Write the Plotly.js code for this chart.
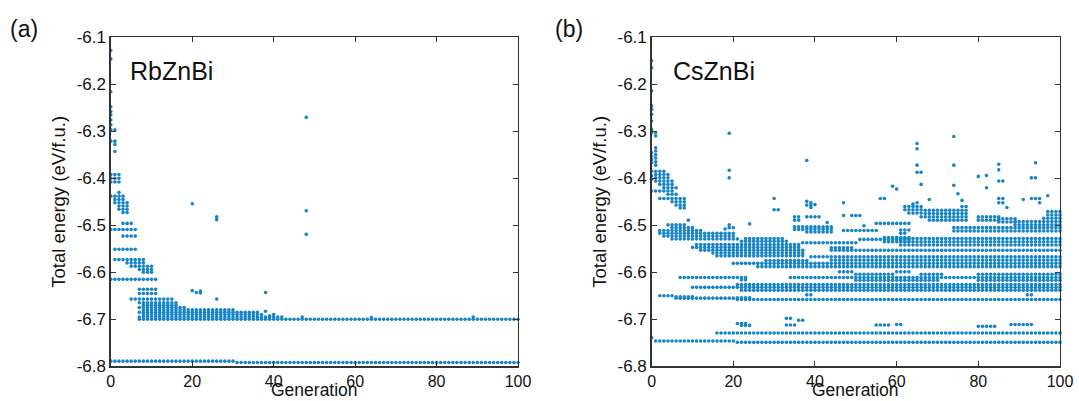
<!DOCTYPE html>
<html><head><meta charset="utf-8">
<script src="https://cdn.plot.ly/plotly-3.0.1.min.js"></script>
<style>html,body{margin:0;padding:0;background:#fff;}#chart{width:1079px;height:401px;}</style>
</head><body><div id="chart"></div>
<script>
// Axis ticks
const genTicks = [0, 20, 40, 60, 80, 100];
const energyTicks = [-6.8, -6.7, -6.6, -6.5, -6.4, -6.3, -6.2, -6.1];
const energyTickLabels = ['-6.8', '-6.7', '-6.6', '-6.5', '-6.4', '-6.3', '-6.2', '-6.1'];

// RbZnBi: horizontal runs [first generation, last generation, energy (eV/f.u.)]
const rbRuns = [
  [0, 30, -6.789], [31, 100, -6.792],
  [7, 100, -6.700], [7, 42, -6.695], [8, 37, -6.690], [7, 36, -6.685], [8, 30, -6.680],
  [7, 18, -6.675], [8, 16, -6.670], [7, 16, -6.665], [5, 15, -6.657],
  [7, 11, -6.645], [7, 11, -6.636], [0, 11, -6.615],
  [8, 10, -6.600], [7, 10, -6.594], [5, 10, -6.587], [4, 8, -6.580], [1, 8, -6.573],
  [1, 6, -6.551], [3, 6, -6.523], [0, 6, -6.509], [3, 5, -6.496],
  [3, 4, -6.473], [2, 4, -6.466], [2, 4, -6.459], [1, 4, -6.452], [1, 3, -6.445], [0, 3, -6.438],
  [0, 2, -6.408], [0, 2, -6.400], [0, 2, -6.392]
];
// RbZnBi: isolated structures [generation, energy]
const rbSingles = [
  [0, -6.128], [0, -6.146], [0, -6.216], [0, -6.248], [0, -6.258], [0, -6.265], [0, -6.276],
  [0, -6.286], [0, -6.297], [0, -6.321],
  [1, -6.297], [1, -6.321], [1, -6.328], [1, -6.343], [2, -6.430],
  [20, -6.454], [20, -6.639], [21, -6.643], [22, -6.640], [22, -6.644],
  [26, -6.482], [26, -6.488], [26, -6.657], [38, -6.643], [38, -6.683],
  [39, -6.693], [40, -6.690], [47, -6.695], [64, -6.696], [89, -6.695],
  [48, -6.270], [48, -6.469], [48, -6.519]
];

// CsZnBi: horizontal runs [first generation, last generation, energy (eV/f.u.)]
const csRuns = [
  [1, 20, -6.746], [21, 100, -6.749], [16, 100, -6.729],
  [21, 23, -6.709], [22, 24, -6.713], [33, 34, -6.698], [33, 35, -6.712], [36, 37, -6.702],
  [55, 58, -6.712], [60, 61, -6.711], [80, 84, -6.715], [88, 93, -6.711],
  [2, 5, -6.650], [6, 10, -6.652], [6, 20, -6.655], [21, 24, -6.654], [21, 100, -6.658],
  [38, 39, -6.648], [92, 93, -6.648],
  [10, 100, -6.632], [21, 100, -6.626], [22, 100, -6.638],
  [7, 23, -6.611], [22, 23, -6.616], [34, 100, -6.611],
  [50, 70, -6.617], [80, 100, -6.617], [50, 59, -6.604], [66, 71, -6.604], [80, 100, -6.604],
  [46, 49, -6.599], [60, 63, -6.599],
  [20, 100, -6.581], [26, 100, -6.588], [28, 38, -6.575], [39, 43, -6.567],
  [44, 100, -6.574], [44, 100, -6.567],
  [11, 36, -6.541], [10, 36, -6.547], [12, 37, -6.553], [15, 37, -6.559], [16, 37, -6.565],
  [22, 33, -6.534], [23, 32, -6.528],
  [37, 50, -6.537], [44, 100, -6.553], [44, 49, -6.548],
  [61, 100, -6.528], [61, 100, -6.535], [61, 100, -6.542],
  [51, 63, -6.530], [57, 63, -6.526], [57, 63, -6.535],
  [4, 8, -6.499], [5, 10, -6.505], [2, 12, -6.511], [2, 20, -6.517], [3, 20, -6.523], [5, 21, -6.529],
  [35, 37, -6.503], [35, 37, -6.509], [38, 44, -6.503], [38, 44, -6.508], [38, 44, -6.514],
  [47, 55, -6.511], [35, 36, -6.482], [35, 36, -6.489], [38, 41, -6.482], [55, 63, -6.496],
  [61, 63, -6.510], [61, 62, -6.517],
  [74, 100, -6.505], [74, 100, -6.512], [89, 100, -6.492], [89, 100, -6.499],
  [67, 77, -6.468], [67, 77, -6.475], [66, 77, -6.482], [68, 77, -6.489],
  [80, 85, -6.482], [80, 85, -6.489], [85, 89, -6.486], [85, 89, -6.493],
  [97, 100, -6.471], [97, 100, -6.478], [96, 100, -6.485],
  [62, 66, -6.460], [62, 66, -6.467], [63, 66, -6.474],
  [0, 3, -6.385], [1, 4, -6.392], [1, 4, -6.399], [1, 5, -6.406], [2, 5, -6.413], [3, 6, -6.420],
  [0, 5, -6.427], [4, 6, -6.434], [2, 8, -6.443], [5, 8, -6.450], [6, 8, -6.457], [7, 8, -6.463]
];
// CsZnBi: isolated structures [generation, energy]
const csSingles = [
  [0, -6.150], [0, -6.165], [0, -6.214], [0, -6.246], [0, -6.253], [0, -6.264], [0, -6.278],
  [0, -6.296], [0, -6.303], [0, -6.345], [0, -6.353], [0, -6.360], [0, -6.367], [0, -6.395],
  [0, -6.402], [0, -6.739],
  [1, -6.303], [1, -6.310], [1, -6.335], [1, -6.342], [1, -6.350], [1, -6.357], [1, -6.365], [1, -6.372],
  [9, -6.489], [18, -6.508], [19, -6.304], [19, -6.383], [19, -6.399], [19, -6.499], [19, -6.505],
  [20, -6.505], [24, -6.497],
  [30, -6.443], [30, -6.467], [31, -6.467],
  [38, -6.362], [38, -6.449], [38, -6.457], [39, -6.452], [39, -6.457], [39, -6.462], [40, -6.456],
  [43, -6.494], [47, -6.452], [47, -6.479], [49, -6.479], [50, -6.479], [51, -6.479], [52, -6.501],
  [56, -6.443], [57, -6.443], [59, -6.417], [60, -6.423],
  [64, -6.455], [65, -6.452], [65, -6.326], [65, -6.337], [65, -6.372], [65, -6.387],
  [66, -6.387], [66, -6.413], [68, -6.445],
  [74, -6.311], [74, -6.372], [74, -6.415], [75, -6.433], [76, -6.447], [76, -6.460], [77, -6.460],
  [80, -6.396], [82, -6.394], [82, -6.420],
  [85, -6.370], [85, -6.382], [85, -6.406], [85, -6.443], [85, -6.452],
  [86, -6.406], [86, -6.443], [86, -6.452], [87, -6.462],
  [91, -6.445], [93, -6.399], [93, -6.443], [94, -6.367], [94, -6.399], [94, -6.443],
  [95, -6.443], [95, -6.452], [97, -6.437]
];

function expand(runs, singles) {
  const x = [], y = [];
  runs.forEach(([a, b, e]) => { for (let g = a; g <= b; g++) { x.push(g); y.push(e); } });
  singles.forEach(([g, e]) => { x.push(g); y.push(e); });
  return {x, y};
}
const rb = expand(rbRuns, rbSingles);
const cs = expand(csRuns, csSingles);

const dotColor = '#1784c6';
const marker = {size: 3.6, color: dotColor, line: {width: 0}};
const font = 'Liberation Sans, Arial, sans-serif';
const traces = [
  {type: 'scatter', mode: 'markers', x: rb.x, y: rb.y, marker, xaxis: 'x', yaxis: 'y', cliponaxis: false, hoverinfo: 'x+y'},
  {type: 'scatter', mode: 'markers', x: cs.x, y: cs.y, marker, xaxis: 'x2', yaxis: 'y2', cliponaxis: false, hoverinfo: 'x+y'}
];

function xAx(dom, anchor) {
  return {domain: dom, anchor, range: [0, 100], tickvals: genTicks, ticks: 'inside', ticklen: 5,
    tickcolor: '#333', showline: true, linecolor: '#333', linewidth: 1.4, mirror: 'ticks',
    showgrid: false, zeroline: false,
    tickfont: {family: font, size: 16, color: '#111'}};
}
function yAx(anchor) {
  return {domain: [0.0865, 0.907], anchor, range: [-6.8, -6.1], tickvals: energyTicks,
    ticktext: energyTickLabels, ticks: 'inside', ticklen: 5, tickcolor: '#333', showline: true,
    linecolor: '#333', linewidth: 1.4, mirror: 'ticks', showgrid: false, zeroline: false,
    tickfont: {family: font, size: 17, color: '#111'},
    title: {text: 'Total energy (eV/f.u.)', font: {family: font, size: 18.5, color: '#111'}, standoff: 6}};
}

const layout = {
  width: 1079, height: 401, margin: {l: 0, r: 0, t: 0, b: 0},
  paper_bgcolor: '#fff', plot_bgcolor: '#fff', showlegend: false,
  xaxis: xAx([0.1027, 0.4801], 'y'), yaxis: yAx('x'),
  xaxis2: xAx([0.6039, 0.9824], 'y2'), yaxis2: yAx('x2'),
  annotations: [
    {text: 'Generation', xref: 'x domain', yref: 'paper', x: 0.5, y: 0, xanchor: 'center', yanchor: 'bottom', showarrow: false, borderpad: 0, font: {family: font, size: 17.5, color: '#111'}},
    {text: 'Generation', xref: 'x2 domain', yref: 'paper', x: 0.5, y: 0, xanchor: 'center', yanchor: 'bottom', showarrow: false, borderpad: 0, font: {family: font, size: 17.5, color: '#111'}},
    {text: '(a)', xref: 'paper', yref: 'paper', x: 0.0077, y: 0.9277, xanchor: 'left', yanchor: 'middle', showarrow: false, font: {family: font, size: 23, color: '#111'}},
    {text: '(b)', xref: 'paper', yref: 'paper', x: 0.5125, y: 0.9277, xanchor: 'left', yanchor: 'middle', showarrow: false, font: {family: font, size: 23, color: '#111'}},
    {text: 'RbZnBi', xref: 'paper', yref: 'paper', x: 0.1183, y: 0.8229, xanchor: 'left', yanchor: 'middle', showarrow: false, font: {family: font, size: 25, color: '#111'}},
    {text: 'CsZnBi', xref: 'paper', yref: 'paper', x: 0.6219, y: 0.8229, xanchor: 'left', yanchor: 'middle', showarrow: false, font: {family: font, size: 25, color: '#111'}}
  ]
};
Plotly.newPlot('chart', traces, layout, {displayModeBar: false, staticPlot: true});
</script></body></html>
